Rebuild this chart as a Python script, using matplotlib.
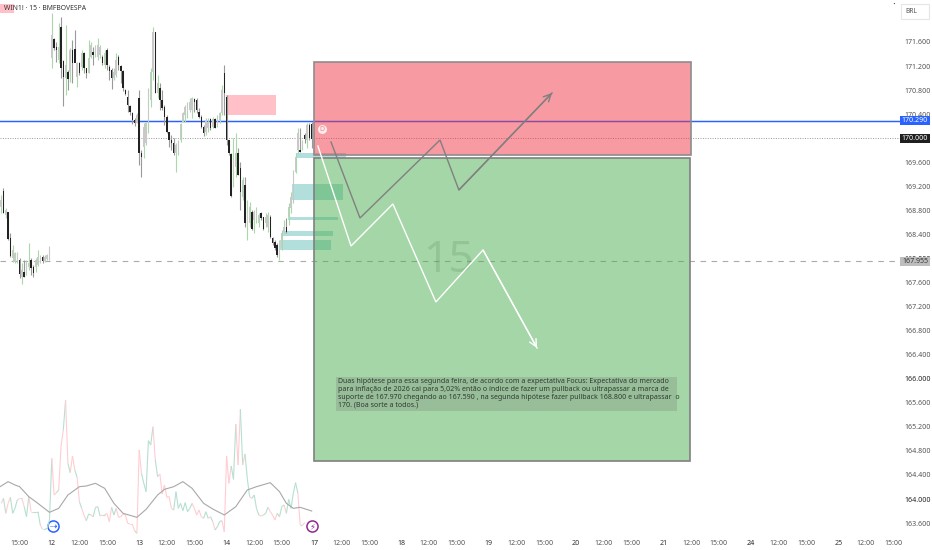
import matplotlib
matplotlib.use("Agg")
import matplotlib.pyplot as plt
from matplotlib.collections import LineCollection
from matplotlib.patches import Rectangle
from matplotlib.transforms import blended_transform_factory
import numpy as np

plt.rcParams['font.family'] = ['Noto Sans', 'DejaVu Sans']

highs = [169055,169166,168834,168778,168418,168224,168113,168113,168002,167919,167974,167974,168251,168002,167891,168002,168141,168057,168057,168057,168074,168207,
 172076,171661,171605,171910,172021,171300,171882,171134,171494,171633,171799,171272,171272,171466,171439,171161,171633,171605,171522,171550,171661,171550,171383,171466,171494,171217,171161,171161,171411,171383,171217,171134,170812,170801,170552,170441,170330,170413,
 170801,169804,170247,170275,170829,171161,171855,171771,171051,170912,170801,170552,170386,170108,170053,169998,169915,169970,170247,170441,170552,170607,170663,170691,170663,170663,170496,170386,170219,170330,170330,170330,170358,170330,170386,170441,170885,171217,
 170718,169970,169748,170011,170081,169831,169610,169360,169360,168972,168944,168806,168806,168861,168750,168778,168695,168750,168778,168723,168362,168307,168251,168307,168473,168640,168667,168917,169111,169471,169748,170164,170164,169970,170081,170247,170247,170275]
lows = [168750,168750,168667,168307,168030,167947,167930,167919,167670,167570,167697,167725,167808,167725,167686,167780,167875,167919,167919,167947,167974,167974,
 171161,171466,171272,171245,170995,170535,170718,170801,170940,170912,171272,170857,171051,171134,171079,170995,171079,171328,171217,171356,171300,171328,171217,171161,171134,170968,170812,170968,171023,171134,170912,170790,170718,170441,170386,170236,170203,170247,
 169554,169360,169665,169887,170081,170524,170968,170746,170663,170469,170469,170219,170081,169859,169804,169721,169443,169721,169942,170275,170275,170330,170441,170330,170441,170413,170330,170164,170036,170053,170108,170136,170164,170164,170192,170247,170386,170386,
 169887,169721,169028,169194,169360,169388,168806,168972,168529,168307,168529,168473,168418,168584,168529,168640,168473,168529,168446,168335,168224,168141,168030,167974,168141,168418,168418,168556,168750,168917,169416,169748,169776,169804,169915,169831,169970,169831]
opens = [168861,169127,168723,168767,168335,168002,167947,167974,167974,167700,167780,167780,167864,167974,167864,167864,167891,167930,168019,167964,167985,167985,
 171328,171644,171522,171300,171855,171283,170995,171106,171106,171466,171483,171023,171245,171189,171411,171161,171090,171356,171439,171411,171356,171383,171356,171217,171466,171189,171134,170995,171051,171356,171206,171122,170801,170691,170535,170425,170302,170258,
 170663,169748,169859,169915,170275,170635,171106,171771,170746,170829,170635,170524,170358,170097,169970,169926,169748,169748,169970,170275,170386,170413,170469,170469,170646,170635,170441,170358,170192,170108,170164,170313,170192,170313,170219,170302,170413,171079,
 170691,169970,169737,169416,169526,169748,169499,169028,169222,168529,168584,168778,168640,168640,168584,168750,168684,168584,168529,168695,168335,168279,168224,168030,168168,168446,168529,168695,168834,168972,169443,169804,169804,169831,170053,169970,170219,170236]
closes = [168972,168750,168806,168318,168041,168140,168085,168085,167742,167808,167697,167890,167919,167836,167764,167974,168030,168041,167964,168030,168060,168196,
 171716,171494,171466,171522,171161,171012,171217,170985,171466,171245,171245,171245,171079,171411,171161,171079,171328,171550,171383,171522,171550,171522,171245,171411,171217,171122,170995,171106,171300,171217,171117,170829,170735,170552,170441,170302,170258,170386,
 169748,169693,170192,170247,170774,171106,171771,170757,170912,170635,170496,170358,170108,169970,169915,169748,169887,169942,170236,170413,170524,170552,170607,170663,170607,170469,170358,170192,170081,170302,170275,170164,170313,170175,170330,170413,170801,170746,
 169970,169748,169039,169637,169748,169388,169111,169305,168584,168750,168861,168484,168778,168806,168723,168667,168484,168695,168723,168362,168251,168168,168057,168279,168418,168529,168446,168861,169028,169443,169693,170081,169770,169942,169981,170219,169998,169981]
volumes = [110,125,80,110,128,80,95,120,125,125,100,70,130,85,85,85,85,45,32,32,35,60,
 245,135,142,150,280,330,420,230,202,252,210,188,115,95,75,58,78,75,70,98,100,72,75,75,80,55,98,75,95,68,70,78,75,50,48,48,28,20,
 270,200,170,145,298,285,340,240,190,198,138,165,128,130,95,90,145,95,110,88,112,85,95,110,95,75,90,70,65,85,65,70,55,30,40,55,58,25,
 252,170,222,182,348,225,392,225,258,185,130,125,135,95,75,72,75,80,98,85,75,60,80,70,100,105,80,122,95,140,172,140,45,45,52]
ma_bars = [-136.5,-133,-130,-128,-124,-121,-115,-111,-107,-102,-99,-95,-91,-87,-83,-77,-73,-68,-65,-61,-57,-53,-48,-44,-39,-34,-29,-25,-19,-15,-12,-9,-6,-1]
ma_values = [160,175,165,160,130,115,83,95,135,160,162,170,155,110,80,68,92,135,152,160,175,155,110,93,75,100,150,160,172,145,110,95,98,87]

price_ticks = list(range(163600, 171601, 400))
time_ticks = [-114-14, -114, -102, -90, -76, -64, -52, -38, -26, -14, 0, 12, 24, 38, 50, 62, 76, 88, 100, 114, 126, 138, 152, 164, 176, 190, 202, 214, 228, 240, 252]
time_labels = ['15:00','12','12:00','15:00','13','12:00','15:00','14','12:00','15:00','17','12:00','15:00','18','12:00','15:00','19','12:00','15:00','20','12:00','15:00','21','12:00','15:00','24','12:00','15:00','25','12:00','15:00']

blue_level, last_level, prev_level = 170290, 170000, 167955
red_box = (0, 163.9, 169721, 171267)
green_box = (0, 163.5, 164632, 169671)
pink_box = (-38.3, -16.5, 170386, 170719)
corner_box = (-136.5, -130.4, 172082, 172232)
zones = [(-7.8,13.9,169671,169754),(-9.6,12.6,168972,169239),(-11.3,10.4,168640,168690),(-13.9,8.3,168374,168457),(-14.8,7.4,168141,168307)]
gray_x = [7.4,20,54.8,63,103.5]
gray_y = [169937,168673,169970,169139,170752]
white_x = [1.7,16.1,34.3,53,73.5,97]
white_y = [169870,168207,168906,167276,168141,166511]
note_box = (9.6,157.8,165464,166029)
note = ("Duas hipótese para essa segunda feira, de acordo com a expectativa Focus: Expectativa do mercado\n"
        "para inflação de 2026 cai para 5,02% então o índice de fazer um pullback ou ultrapassar a marca de\n"
        "suporte de 167.970 chegando ao 167.590 , na segunda hipótese fazer pullback 168.800 e ultrapassar  o\n"
        "170. (Boa sorte a todos.)")

fig = plt.figure(figsize=(9.32, 5.5), dpi=100, facecolor='white')
ax = fig.add_axes([0, 0, 900/932, 1])
ax.set_xlim(-136.52, 254.8)
ax.set_ylim(163152, 172298)
for s in ax.spines.values():
    s.set_visible(False)

def box(b, **kw):
    ax.add_patch(Rectangle((b[0], b[2]), b[1]-b[0], b[3]-b[2], **kw))

# levels
ax.axhline(blue_level, color='#c5d6ff', lw=1.8, zorder=1)
ax.axhline(blue_level, color='#2962ff', lw=0.8, zorder=1.1)
ax.axhline(last_level, color='#999999', lw=0.7, ls=(0, (1, 1.5)), zorder=1)
ax.axhline(prev_level, color='#aaaaaa', lw=0.8, ls=(0, (5, 5)), zorder=1)

# zones and boxes below the candles
box(corner_box, fc='#ffc1c7', ec='none', zorder=1.5)
box(pink_box, fc='#ffc1c7', ec='none', zorder=1.5)
for z in zones:
    box(z, fc='#b2dfdb', ec='none', zorder=1.8)

# candles
n = len(highs)
bars = np.arange(-n, 0)
o, c, h, l = map(np.array, (opens, closes, highs, lows))
up = c >= o
ax.vlines(bars[up], l[up], h[up], color='#a9d8ab', lw=0.8, zorder=2)
ax.vlines(bars[~up], l[~up], h[~up], color='#999999', lw=0.8, zorder=2)
ax.bar(bars[up], (c-o)[up], bottom=o[up], width=0.62, color='#c9c9c9', lw=0, zorder=2.2)
ax.bar(bars[~up], (o-c)[~up], bottom=c[~up], width=0.62, color='#222222', lw=0, zorder=2.2)

box(red_box, fc=(242/255, 54/255, 69/255, 0.5), ec='#8c8c8c', lw=1.2, zorder=3)
box(green_box, fc=(76/255, 175/255, 80/255, 0.5), ec='#808080', lw=1.2, zorder=3)

ax.text(58.7, 167950, '15', fontsize=32, color='#5f8f62', alpha=0.25, ha='center', va='center', zorder=3.3)

# hypothesis paths
ax.plot(gray_x, gray_y, color='#808080', lw=1.0, zorder=4, solid_joinstyle='miter')
ax.annotate('', xy=(gray_x[-1], gray_y[-1]), xytext=(gray_x[-2], gray_y[-2]), zorder=4,
            arrowprops=dict(arrowstyle='->', color='#808080', lw=1.0, mutation_scale=13, shrinkA=0, shrinkB=0))
ax.plot(white_x, white_y, color='white', lw=1.0, zorder=4, solid_joinstyle='miter')
ax.annotate('', xy=(white_x[-1], white_y[-1]), xytext=(white_x[-2], white_y[-2]), zorder=4,
            arrowprops=dict(arrowstyle='->', color='white', lw=1.0, mutation_scale=13, shrinkA=0, shrinkB=0))

# note
box(note_box, fc=(0.42, 0.42, 0.42, 0.22), ec='none', zorder=4)
ax.text(10.3, 166010, note, fontsize=5.05, color='#2f3a30', va='top', ha='left', linespacing=1.18, zorder=4.2)

# marker D and events
ax.scatter([3.5], [170153], s=42, color='#fdecee', lw=0, zorder=5)
ax.text(3.5, 170150, 'D', fontsize=5, fontweight='bold', color='#f0808c', ha='center', va='center', zorder=5.1)
ax.scatter([-113.5], [163543], s=64, facecolor='white', edgecolor='#2962ff', lw=1.1, zorder=5)
ax.text(-113.5, 163543, '⇢', fontsize=6.5, color='#2962ff', ha='center', va='center', zorder=5.1, family='DejaVu Sans')
ax.scatter([-0.9], [163543], s=64, facecolor='white', edgecolor='#8e2a8e', lw=1.1, zorder=5)
ax.text(-0.9, 163543, '⚡', fontsize=6, color='#8e2a8e', ha='center', va='center', zorder=5.1, family='DejaVu Sans')

# axes ticks
ax.yaxis.tick_right()
ax.set_yticks(price_ticks)
ax.set_yticklabels([f'{p/1000:.3f}' for p in price_ticks])
ax.tick_params(axis='y', length=0, pad=3.2, labelsize=5.1, labelcolor='#555555')
for p, t in zip(price_ticks, ax.get_yticklabels()):
    if p % 2000 == 0:
        t.set_color('#222222')
ax.set_xticks(time_ticks)
ax.set_xticklabels(time_labels)
ax.tick_params(axis='x', length=0, pad=-7.5, labelsize=5.1, labelcolor='#555555')
for lab, t in zip(time_labels, ax.get_xticklabels()):
    if lab in ('17', '24'):
        t.set_fontweight('bold'); t.set_color('#222222')
    elif ':' not in lab:
        t.set_color('#333333')

# price labels
tr = blended_transform_factory(ax.transAxes, ax.transData)
for lvl, fc, tc, txt in [(blue_level, '#2962ff', 'white', '170.290'),
                         (last_level, '#1f1f1f', 'white', '170.000'),
                         (prev_level, '#bdbdbd', '#333333', '167.955')]:
    ax.add_patch(Rectangle((1.0, lvl-76), 30/900, 152, transform=tr, fc=fc, ec='none', clip_on=False, zorder=6))
    ax.text(915/900, lvl, txt, transform=tr, color=tc, fontsize=5.1, ha='center', va='center', zorder=6.1, clip_on=False)

# BRL badge
ax.add_patch(Rectangle((901/900, 171990), 28/900, 235, transform=tr, fc='white', ec='#e6e6e6', lw=0.8, clip_on=False, zorder=6))
ax.text(911.5/900, 172108, 'BRL', transform=tr, fontsize=4.8, color='#555555', ha='center', va='center', clip_on=False, zorder=6.1)
ax.text(894/900, 172210, '·', transform=tr, fontsize=8, color='#444444', ha='center', va='center', zorder=6)

# title
ax.text(-134.8, 172158, 'WIN1! · 15 · BMFBOVESPA', fontsize=4.9, color='#333333', ha='left', va='center', zorder=6)

# volume panel
vax = fig.add_axes([0, 10/550, 900/932, 160/550], sharex=ax)
vax.patch.set_alpha(0)
vax.set_ylim(0, 480)
vax.axis('off')
vb = bars[:len(volumes)]
pts = np.column_stack([vb, volumes])
segs = np.stack([pts[:-1], pts[1:]], axis=1)
cols = ['#b5e0cf' if u else '#ffcdd2' for u in up[1:len(volumes)]]
vax.add_collection(LineCollection(segs, colors=cols, lw=0.8))
vax.plot(ma_bars, ma_values, color='#a8a8a8', lw=0.8)

fig.savefig('out.png', dpi=100)
